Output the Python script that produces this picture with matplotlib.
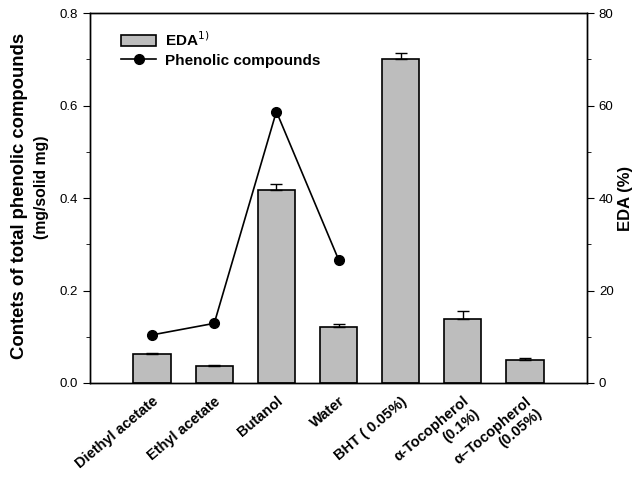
import matplotlib
matplotlib.use("Agg")
import matplotlib.pyplot as plt
import numpy as np
from matplotlib.ticker import MultipleLocator, FormatStrFormatter

plt.rcParams['font.family'] = ['Liberation Sans', 'DejaVu Sans']

categories = ["Diethyl acetate", "Ethyl acetate", "Butanol", "Water",
              "BHT ( 0.05%)", "\u03b1-Tocopherol\n(0.1%)", "\u03b1\u2013Tocopherol\n(0.05%)"]
eda = [6.2, 3.7, 41.7, 12.0, 70.0, 13.8, 5.0]
eda_err = [0.2, 0.2, 1.3, 0.8, 1.3, 1.8, 0.4]
phenolic_cats = [0, 1, 2, 3]
phenolic = [0.104, 0.129, 0.587, 0.267]

fig = plt.figure(figsize=(6.36, 4.82), dpi=100)
ax = fig.add_axes([0.1415, 0.2054, 0.7815, 0.7676])
ax2 = ax.twinx()

x = np.arange(len(categories))
bars = ax2.bar(x, eda, width=0.6, color='#bdbdbd', edgecolor='black', linewidth=1.2,
               yerr=[np.zeros(len(eda)), eda_err], capsize=4,
               error_kw=dict(ecolor='black', elinewidth=1, capthick=1))
line, = ax.plot(phenolic_cats, phenolic, color='black', marker='o', markersize=7,
                linewidth=1.2)

ax.set_zorder(ax2.get_zorder() + 1)
ax.patch.set_visible(False)

ax.set_xlim(-1, 7)
ax.set_ylim(0, 0.8)
ax2.set_ylim(0, 80)
ax.yaxis.set_major_locator(MultipleLocator(0.2))
ax.yaxis.set_minor_locator(MultipleLocator(0.1))
ax.yaxis.set_major_formatter(FormatStrFormatter('%.1f'))
ax2.yaxis.set_major_locator(MultipleLocator(20))
ax2.yaxis.set_minor_locator(MultipleLocator(10))

ax.tick_params(axis='y', which='major', direction='out', length=5, labelsize=9.5)
ax.tick_params(axis='y', which='minor', direction='out', length=3)
ax2.tick_params(axis='y', which='major', direction='out', length=5, labelsize=9.5)
ax2.tick_params(axis='y', which='minor', direction='out', length=3)

ax.set_xticks(x)
ax.set_xticklabels(categories, rotation=40, ha='right', rotation_mode='anchor',
                   fontweight='bold', fontsize=10.5)
ax.tick_params(axis='x', length=0, pad=8)
ax2.tick_params(axis='x', length=0)

for a in (ax, ax2):
    for s in a.spines.values():
        s.set_linewidth(1.0)

fig.text(0.03, 0.593, "Contets of total phenolic compounds", rotation=90,
         ha='center', va='center', fontweight='bold', fontsize=13.3)
fig.text(0.066, 0.612, "(mg/solid mg)", rotation=90,
         ha='center', va='center', fontweight='bold', fontsize=11.3)
ax2.set_ylabel("EDA (%)", fontweight='bold', fontsize=12, labelpad=3)

leg = ax.legend(handles=[bars, line], labels=['EDA$^{1)}$', 'Phenolic compounds'],
                loc='upper left', bbox_to_anchor=(0.05, 0.97), frameon=False,
                prop={'weight': 'bold', 'size': 11}, handlelength=2.3,
                labelspacing=0.3, borderaxespad=0, handletextpad=0.6)

fig.savefig("out.png", dpi=100)
